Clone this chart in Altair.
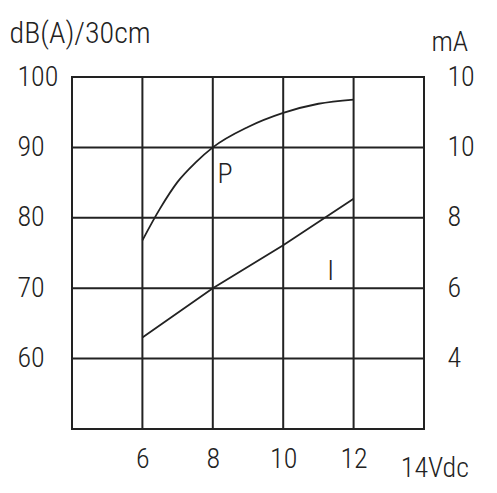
import altair as alt
import pandas as pd

FONT = "Roboto Condensed, Liberation Sans Narrow, DejaVu Sans Condensed, Roboto, sans-serif"
INK = "#222222"
FS = 28
FW = 300

# P curve: sound level dB(A)/30cm vs voltage
p_volt = [6, 6.5, 7, 7.5, 8, 9, 10, 11, 12]
p_db = [76.8, 81.3, 85.1, 87.8, 90.0, 92.9, 94.9, 96.2, 96.8]

# I curve: current mA vs voltage
i_volt = [6, 8, 10, 12]
i_ma = [4.6, 6.0, 7.22, 8.54]

x_ticks = [4, 6, 8, 10, 12, 14]
x_labels = [6, 8, 10, 12]
left_ticks = [50, 60, 70, 80, 90, 100]
left_labels = [60, 70, 80, 90, 100]
right_ticks = [4, 6, 8, 10, 12]

annot_x = [8.13, 11.25]
annot_y = [85.0, 71.1]
annot_t = ["P", "I"]
unit_x = [13.34]
unit_y = [43.2]
unit_t = ["14Vdc"]

annot = pd.DataFrame({"x": annot_x, "y": annot_y, "t": annot_t})
unit = pd.DataFrame({"x": unit_x, "y": unit_y, "t": unit_t})

xs = alt.Scale(domain=[4, 14], nice=False, zero=False)
ys = alt.Scale(domain=[50, 100], nice=False, zero=False)
rs = alt.Scale(domain=[2, 12], nice=False, zero=False)

x_axis = alt.Axis(values=x_labels, grid=False, domain=False, ticks=False,
                  labelFontSize=FS, labelFont=FONT, labelFontWeight=FW, labelColor=INK,
                  labelPadding=16, title=None)

y_axis = alt.Axis(values=left_labels, grid=False, domain=False, ticks=False,
                  labelFontSize=FS, labelFont=FONT, labelFontWeight=FW, labelColor=INK,
                  labelAlign="left", labelPadding=55,
                  title="dB(A)/30cm", titleAngle=0, titleAlign="left",
                  titleBaseline="alphabetic", titleX=-63, titleY=-35,
                  titleFont=FONT, titleFontSize=30, titleFontWeight=FW,
                  titleColor=INK)

grid_x = alt.Chart(pd.DataFrame({"x": x_ticks})).mark_rule(
    color=INK, strokeWidth=2).encode(
    x=alt.X("x:Q", scale=xs, axis=x_axis))

grid_y = alt.Chart(pd.DataFrame({"y": left_ticks})).mark_rule(
    color=INK, strokeWidth=2).encode(
    y=alt.Y("y:Q", scale=ys, axis=y_axis))

p_df = pd.DataFrame({"v": p_volt, "db": p_db})
p_line = alt.Chart(p_df).mark_line(color=INK, strokeWidth=1.8, interpolate="monotone").encode(
    x=alt.X("v:Q", scale=xs, axis=x_axis),
    y=alt.Y("db:Q", scale=ys, axis=y_axis))

p_text = alt.Chart(annot).mark_text(font=FONT, fontSize=FS, fontWeight=FW, color=INK,
                                    align="left", baseline="alphabetic").encode(
    x=alt.X("x:Q", scale=xs, axis=x_axis),
    y=alt.Y("y:Q", scale=ys, axis=y_axis),
    text="t:N")

unit_text = alt.Chart(unit).mark_text(font=FONT, fontSize=FS, fontWeight=FW, color=INK,
                                      align="left", baseline="alphabetic").encode(
    x=alt.X("x:Q", scale=xs, axis=x_axis),
    y=alt.Y("y:Q", scale=ys, axis=y_axis),
    text="t:N")

left_layer = alt.layer(grid_x, grid_y, p_line, p_text, unit_text)

i_df = pd.DataFrame({"v": i_volt, "ma": i_ma})
i_line = alt.Chart(i_df).mark_line(color=INK, strokeWidth=1.8).encode(
    x=alt.X("v:Q", scale=xs, axis=x_axis),
    y=alt.Y("ma:Q", scale=rs,
            axis=alt.Axis(orient="right", values=right_ticks, grid=False, domain=False,
                          ticks=False, labelFontSize=FS, labelFont=FONT, labelFontWeight=FW,
                          labelColor=INK, labelAlign="left", labelPadding=23,
                          labelExpr="datum.value == 12 ? '10' : datum.label",
                          title="mA", titleAngle=0, titleAlign="left",
                          titleBaseline="alphabetic", titleX=7, titleY=-27,
                          titleFont=FONT, titleFontSize=FS, titleFontWeight=FW,
                          titleColor=INK)))

chart = alt.layer(left_layer, i_line).resolve_scale(y="independent").properties(
    width=352, height=352,
    autosize=alt.AutoSizeParams(type="none"),
    padding={"left": 64, "top": 69, "right": 60, "bottom": 56},
    background="white",
).configure_view(stroke=INK, strokeWidth=2)

chart.save("out.html", embed_options={"renderer": "svg", "actions": False})
